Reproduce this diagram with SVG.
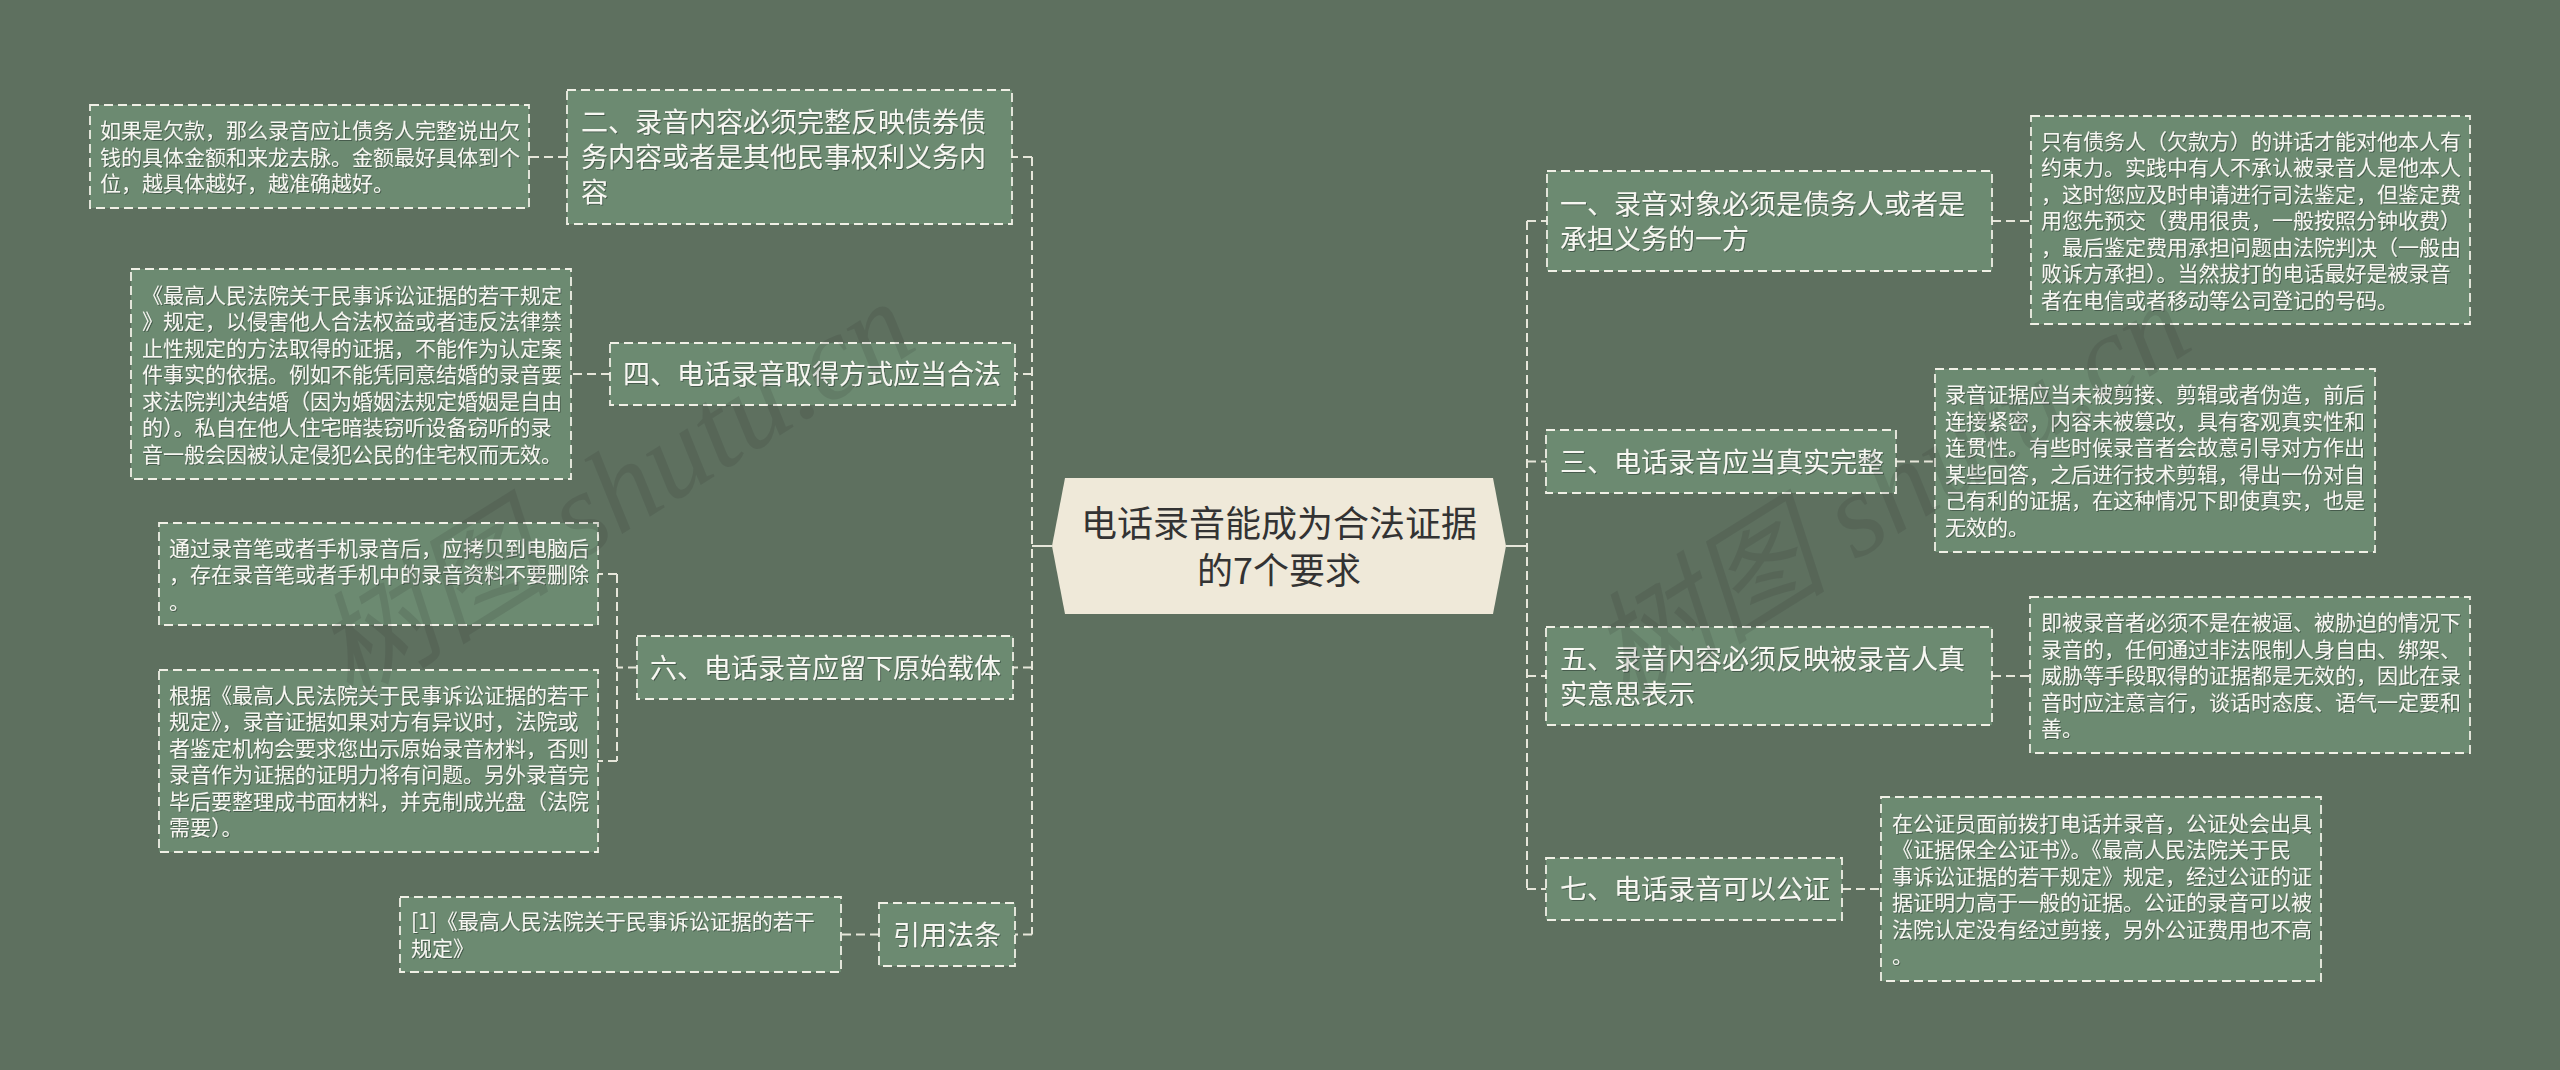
<svg xmlns="http://www.w3.org/2000/svg" width="2560" height="1070" viewBox="0 0 2560 1070">
<defs>
<style>
.bg{fill:#5e705f}
.box{fill:#6c8a71;stroke:#f0f0e6;stroke-width:1.8;stroke-dasharray:9 5}
.conn{fill:none;stroke:#e6e6da;stroke-width:2;stroke-dasharray:9 5}
.solid{fill:none;stroke:#e6e6da;stroke-width:2}
.bt{font-family:"Noto Sans CJK SC","Noto Sans",sans-serif;font-size:27px;fill:#f7f7f2;filter:url(#ts)}
.dt{font-family:"Noto Sans CJK SC","Noto Sans",sans-serif;font-size:21px;fill:#f7f7f2;filter:url(#ts)}
.ct{font-family:"Noto Sans CJK SC","Noto Sans",sans-serif;font-size:36px;fill:#333333}
.wm{font-family:"Liberation Serif","Noto Sans CJK SC",serif;font-style:italic;font-size:120px;fill:#2a2a2a;opacity:0.13}
</style>
<filter id="ts" x="-5%" y="-20%" width="110%" height="140%">
<feDropShadow dx="1" dy="1" stdDeviation="0.6" flood-color="#2f3a30" flood-opacity="0.6"/>
</filter>
</defs>
<rect class="bg" x="0" y="0" width="2560" height="1070"/>

<g id="connectors">
<path class="solid" d="M1052,546 H1032"/>
<path class="conn" d="M1032,157 V934.5"/>
<path class="conn" d="M1032,157 H1012"/>
<path class="conn" d="M1032,374 H1015"/>
<path class="conn" d="M1032,667.5 H1013"/>
<path class="conn" d="M1032,934.5 H1015"/>
<path class="solid" d="M1506,546 H1527"/>
<path class="conn" d="M1527,221 V889"/>
<path class="conn" d="M1527,221 H1547"/>
<path class="conn" d="M1527,461.5 H1546"/>
<path class="conn" d="M1527,676 H1546"/>
<path class="conn" d="M1527,889 H1546"/>
<path class="conn" d="M567,157 H529"/>
<path class="conn" d="M610,374 H571"/>
<path class="conn" d="M637,667.5 H617"/>
<path class="conn" d="M617,574 V761"/>
<path class="conn" d="M617,574 H598"/>
<path class="conn" d="M617,761 H598"/>
<path class="conn" d="M879,934.5 H841"/>
<path class="conn" d="M1992,221 H2031"/>
<path class="conn" d="M1896,461.5 H1935"/>
<path class="conn" d="M1992,676 H2030"/>
<path class="conn" d="M1842,889 H1881"/>
</g>

<g id="center">
<polygon points="1052,546 1065,478 1493,478 1506,546 1493,614 1065,614" fill="#efe9d9"/>
<text class="ct" text-anchor="middle"><tspan x="1279" y="537">电话录音能成为合法证据</tspan><tspan x="1279" y="584">的7个要求</tspan></text>
</g>

<g id="n2">
<rect class="box" x="567" y="90" width="445" height="134"/>
<text class="bt"><tspan x="581" y="132.3">二、录音内容必须完整反映债券债</tspan><tspan x="581" y="167.3">务内容或者是其他民事权利义务内</tspan><tspan x="581" y="202.3">容</tspan></text>
</g>
<g id="n2d">
<rect class="box" x="90" y="105" width="439" height="103"/>
<text class="dt"><tspan x="100" y="138">如果是欠款，那么录音应让债务人完整说出欠</tspan><tspan x="100" y="164.5">钱的具体金额和来龙去脉。金额最好具体到个</tspan><tspan x="100" y="191">位，越具体越好，越准确越好。</tspan></text>
</g>

<g id="n4">
<rect class="box" x="610" y="343" width="405" height="62"/>
<text class="bt"><tspan x="623" y="384.3">四、电话录音取得方式应当合法</tspan></text>
</g>
<g id="n4d">
<rect class="box" x="131" y="269" width="440" height="210"/>
<text class="dt"><tspan x="142" y="302.5">《最高人民法院关于民事诉讼证据的若干规定</tspan><tspan x="142" y="329">》规定，以侵害他人合法权益或者违反法律禁</tspan><tspan x="142" y="355.5">止性规定的方法取得的证据，不能作为认定案</tspan><tspan x="142" y="382">件事实的依据。例如不能凭同意结婚的录音要</tspan><tspan x="142" y="408.5">求法院判决结婚（因为婚姻法规定婚姻是自由</tspan><tspan x="142" y="435">的）。私自在他人住宅暗装窃听设备窃听的录</tspan><tspan x="142" y="461.5">音一般会因被认定侵犯公民的住宅权而无效。</tspan></text>
</g>

<g id="n6">
<rect class="box" x="637" y="636" width="376" height="63"/>
<text class="bt"><tspan x="650" y="677.8">六、电话录音应留下原始载体</tspan></text>
</g>
<g id="n6d1">
<rect class="box" x="159" y="523" width="439" height="102"/>
<text class="dt"><tspan x="169" y="555.5">通过录音笔或者手机录音后，应拷贝到电脑后</tspan><tspan x="169" y="582">，存在录音笔或者手机中的录音资料不要删除</tspan><tspan x="169" y="608.5">。</tspan></text>
</g>
<g id="n6d2">
<rect class="box" x="159" y="670" width="439" height="182"/>
<text class="dt"><tspan x="169" y="702.75">根据《最高人民法院关于民事诉讼证据的若干</tspan><tspan x="169" y="729.25">规定》，录音证据如果对方有异议时，法院或</tspan><tspan x="169" y="755.75">者鉴定机构会要求您出示原始录音材料，否则</tspan><tspan x="169" y="782.25">录音作为证据的证明力将有问题。另外录音完</tspan><tspan x="169" y="808.75">毕后要整理成书面材料，并克制成光盘（法院</tspan><tspan x="169" y="835.25">需要）。</tspan></text>
</g>

<g id="nref">
<rect class="box" x="879" y="903" width="136" height="63"/>
<text class="bt"><tspan x="893" y="944.8">引用法条</tspan></text>
</g>
<g id="nrefd">
<rect class="box" x="400" y="897" width="441" height="75"/>
<text class="dt"><tspan x="411" y="929.25">[1]《最高人民法院关于民事诉讼证据的若干</tspan><tspan x="411" y="955.75">规定》</tspan></text>
</g>

<g id="n1">
<rect class="box" x="1547" y="171" width="445" height="100"/>
<text class="bt"><tspan x="1560" y="213.8">一、录音对象必须是债务人或者是</tspan><tspan x="1560" y="248.8">承担义务的一方</tspan></text>
</g>
<g id="n1d">
<rect class="box" x="2031" y="116" width="439" height="208"/>
<text class="dt"><tspan x="2041" y="148.5">只有债务人（欠款方）的讲话才能对他本人有</tspan><tspan x="2041" y="175">约束力。实践中有人不承认被录音人是他本人</tspan><tspan x="2041" y="201.5">，这时您应及时申请进行司法鉴定，但鉴定费</tspan><tspan x="2041" y="228">用您先预交（费用很贵，一般按照分钟收费）</tspan><tspan x="2041" y="254.5">，最后鉴定费用承担问题由法院判决（一般由</tspan><tspan x="2041" y="281">败诉方承担）。当然拔打的电话最好是被录音</tspan><tspan x="2041" y="307.5">者在电信或者移动等公司登记的号码。</tspan></text>
</g>

<g id="n3">
<rect class="box" x="1546" y="430" width="350" height="63"/>
<text class="bt"><tspan x="1560" y="471.8">三、电话录音应当真实完整</tspan></text>
</g>
<g id="n3d">
<rect class="box" x="1935" y="369" width="440" height="183"/>
<text class="dt"><tspan x="1945" y="402.25">录音证据应当未被剪接、剪辑或者伪造，前后</tspan><tspan x="1945" y="428.75">连接紧密，内容未被篡改，具有客观真实性和</tspan><tspan x="1945" y="455.25">连贯性。有些时候录音者会故意引导对方作出</tspan><tspan x="1945" y="481.75">某些回答，之后进行技术剪辑，得出一份对自</tspan><tspan x="1945" y="508.25">己有利的证据，在这种情况下即使真实，也是</tspan><tspan x="1945" y="534.75">无效的。</tspan></text>
</g>

<g id="n5">
<rect class="box" x="1546" y="627" width="446" height="98"/>
<text class="bt"><tspan x="1560" y="668.8">五、录音内容必须反映被录音人真</tspan><tspan x="1560" y="703.8">实意思表示</tspan></text>
</g>
<g id="n5d">
<rect class="box" x="2030" y="597" width="440" height="156"/>
<text class="dt"><tspan x="2041" y="630">即被录音者必须不是在被逼、被胁迫的情况下</tspan><tspan x="2041" y="656.5">录音的，任何通过非法限制人身自由、绑架、</tspan><tspan x="2041" y="683">威胁等手段取得的证据都是无效的，因此在录</tspan><tspan x="2041" y="709.5">音时应注意言行，谈话时态度、语气一定要和</tspan><tspan x="2041" y="736">善。</tspan></text>
</g>

<g id="n7">
<rect class="box" x="1546" y="858" width="296" height="62"/>
<text class="bt"><tspan x="1560" y="899.3">七、电话录音可以公证</tspan></text>
</g>
<g id="n7d">
<rect class="box" x="1881" y="797" width="440" height="184"/>
<text class="dt"><tspan x="1892" y="830.75">在公证员面前拨打电话并录音，公证处会出具</tspan><tspan x="1892" y="857.25">《证据保全公证书》。《最高人民法院关于民</tspan><tspan x="1892" y="883.75">事诉讼证据的若干规定》规定，经过公证的证</tspan><tspan x="1892" y="910.25">据证明力高于一般的证据。公证的录音可以被</tspan><tspan x="1892" y="936.75">法院认定没有经过剪接，另外公证费用也不高</tspan><tspan x="1892" y="963.25">。</tspan></text>
</g>

<g id="watermark">
<text class="wm" transform="translate(350,704) rotate(-32)">树图 shutu.cn</text>
<text class="wm" transform="translate(1626,704) rotate(-32)">树图 shutu.cn</text>
</g>
</svg>
